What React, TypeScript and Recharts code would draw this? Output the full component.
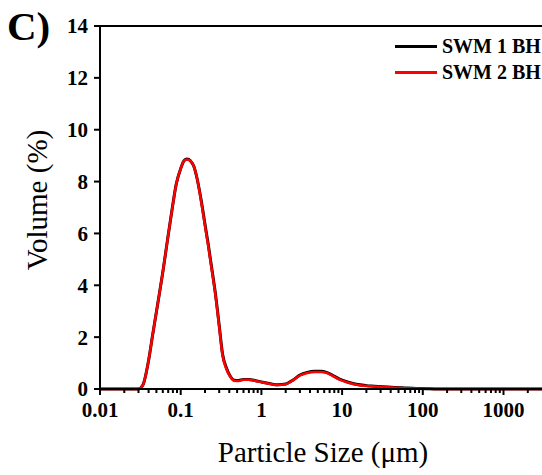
import React from "react";
import { LineChart, Line, XAxis, YAxis, ReferenceLine, Label } from "recharts";

const sizes = [0.01, 0.02, 0.03, 0.034, 0.04, 0.045, 0.052, 0.06, 0.069, 0.078, 0.088, 0.1, 0.11, 0.12, 0.132, 0.145, 0.16, 0.18, 0.2, 0.22, 0.24, 0.27, 0.3, 0.33, 0.37, 0.41, 0.46, 0.52, 0.6, 0.7, 0.85, 1.0, 1.3, 1.6, 2.0, 2.5, 3.0, 3.7, 4.6, 5.5, 6.4, 7.5, 9.3, 12, 15, 20, 25, 32, 45, 60, 83, 110, 140, 3000];
const swm1 = [0, 0, 0, 0.15, 1.1, 2.1, 3.3, 4.5, 5.8, 6.9, 7.9, 8.5, 8.8, 8.87, 8.8, 8.6, 8.1, 7.25, 6.35, 5.55, 4.75, 3.65, 2.45, 1.35, 0.8, 0.5, 0.34, 0.33, 0.37, 0.37, 0.32, 0.27, 0.2, 0.16, 0.19, 0.36, 0.54, 0.64, 0.68, 0.68, 0.64, 0.54, 0.38, 0.26, 0.18, 0.13, 0.11, 0.09, 0.06, 0.04, 0.02, 0.01, 0, 0];
const swm2 = [0, 0, 0, 0.15, 1.1, 2.1, 3.3, 4.5, 5.8, 6.9, 7.9, 8.5, 8.8, 8.85, 8.8, 8.6, 8.1, 7.2, 6.3, 5.5, 4.7, 3.6, 2.4, 1.3, 0.75, 0.48, 0.32, 0.31, 0.36, 0.36, 0.31, 0.26, 0.19, 0.15, 0.18, 0.35, 0.52, 0.62, 0.66, 0.66, 0.62, 0.52, 0.36, 0.24, 0.16, 0.12, 0.1, 0.08, 0.05, 0.03, 0.02, 0.01, 0, 0];

const majorTicks = [0.01, 0.1, 1, 10, 100, 1000];
const minorTicks = [
  0.02, 0.03, 0.04, 0.05, 0.06, 0.07, 0.08, 0.09,
  0.2, 0.3, 0.4, 0.5, 0.6, 0.7, 0.8, 0.9,
  2, 3, 4, 5, 6, 7, 8, 9,
  20, 30, 40, 50, 60, 70, 80, 90,
  200, 300, 400, 500, 600, 700, 800, 900,
  2000,
];
const xTicks = [...majorTicks, ...minorTicks].sort((a, b) => a - b);
const yTicks = [0, 2, 4, 6, 8, 10, 12, 14];

const seriesNames = ["SWM 1 BH", "SWM 2 BH"];
const seriesColors = ["#000000", "#ff0000"];

const data = sizes.map((s, i) => ({ size: s, swm1: swm1[i], swm2: swm2[i] }));

const FONT = "'Liberation Serif', 'Times New Roman', serif";
const TICK_SIZE = 6;
const TICK_MARGIN = 7;

const XTick = (props: any) => {
  const { x, y, payload } = props;
  const v = payload.value;
  const major = majorTicks.some((m) => Math.abs(m - v) / m < 1e-6);
  const axisY = y - TICK_SIZE - TICK_MARGIN;
  return (
    <g>
      <line x1={x} x2={x} y1={axisY} y2={axisY + (major ? 6 : 4)} stroke="#000" strokeWidth={2} />
      {major && (
        <text x={x} y={axisY + 28} textAnchor="middle" fontFamily={FONT} fontWeight="bold" fontSize={21} fill="#000">
          {String(v)}
        </text>
      )}
    </g>
  );
};

const LegendBox = () => (
  <div
    style={{
      position: "absolute",
      left: 395,
      top: 33,
      fontFamily: FONT,
      fontWeight: "bold",
      fontSize: 20,
      color: "#000",
      whiteSpace: "nowrap",
    }}
  >
    {seriesNames.map((n, i) => (
      <div key={n} style={{ display: "flex", alignItems: "center", height: 26 }}>
        <div style={{ width: 42, height: 0, borderTop: `3px solid ${seriesColors[i]}`, marginRight: 5 }} />
        <span style={{ lineHeight: "26px" }}>{n}</span>
      </div>
    ))}
  </div>
);

export default function App() {
  return (
    <div style={{ position: "absolute", left: 0, top: 0, width: 542, height: 475, background: "#fff" }}>
      <LineChart width={542} height={475} data={data} margin={{ top: 26, right: 0, left: 0, bottom: 0 }}>
        <XAxis
          dataKey="size"
          type="number"
          scale="log"
          domain={[0.01, 3000]}
          ticks={xTicks}
          interval={0}
          allowDataOverflow
          height={86}
          tickSize={TICK_SIZE}
          tickMargin={TICK_MARGIN}
          tickLine={false}
          tick={<XTick />}
          axisLine={{ stroke: "#000", strokeWidth: 2 }}
        >
          <Label
            content={() => (
              <text x={323} y={462} textAnchor="middle" fontFamily={FONT} fontSize={29} fill="#000">
                Particle Size (μm)
              </text>
            )}
          />
        </XAxis>
        <YAxis
          type="number"
          domain={[0, 14]}
          ticks={yTicks}
          interval={0}
          width={100}
          tickSize={6}
          tickMargin={6}
          tickLine={{ stroke: "#000", strokeWidth: 2 }}
          axisLine={{ stroke: "#000", strokeWidth: 2 }}
          tick={{ fontFamily: FONT, fontWeight: "bold", fontSize: 21, fill: "#000" }}
        >
          <Label
            content={() => (
              <g>
                <text
                  x={47}
                  y={200}
                  transform="rotate(-90 47 200)"
                  textAnchor="middle"
                  fontFamily={FONT}
                  fontSize={29}
                  fill="#000"
                >
                  Volume (%)
                </text>
                <text x={7} y={40} fontFamily={FONT} fontWeight="bold" fontSize={41} fill="#000">
                  C)
                </text>
              </g>
            )}
          />
        </YAxis>
        <ReferenceLine y={14} stroke="#000" strokeWidth={2} ifOverflow="visible" />
        <Line
          dataKey="swm1"
          name={seriesNames[0]}
          type="monotone"
          stroke={seriesColors[0]}
          strokeWidth={3}
          dot={false}
          isAnimationActive={false}
        />
        <Line
          dataKey="swm2"
          name={seriesNames[1]}
          type="monotone"
          stroke={seriesColors[1]}
          strokeWidth={2.5}
          dot={false}
          isAnimationActive={false}
        />
      </LineChart>
      <LegendBox />
    </div>
  );
}
